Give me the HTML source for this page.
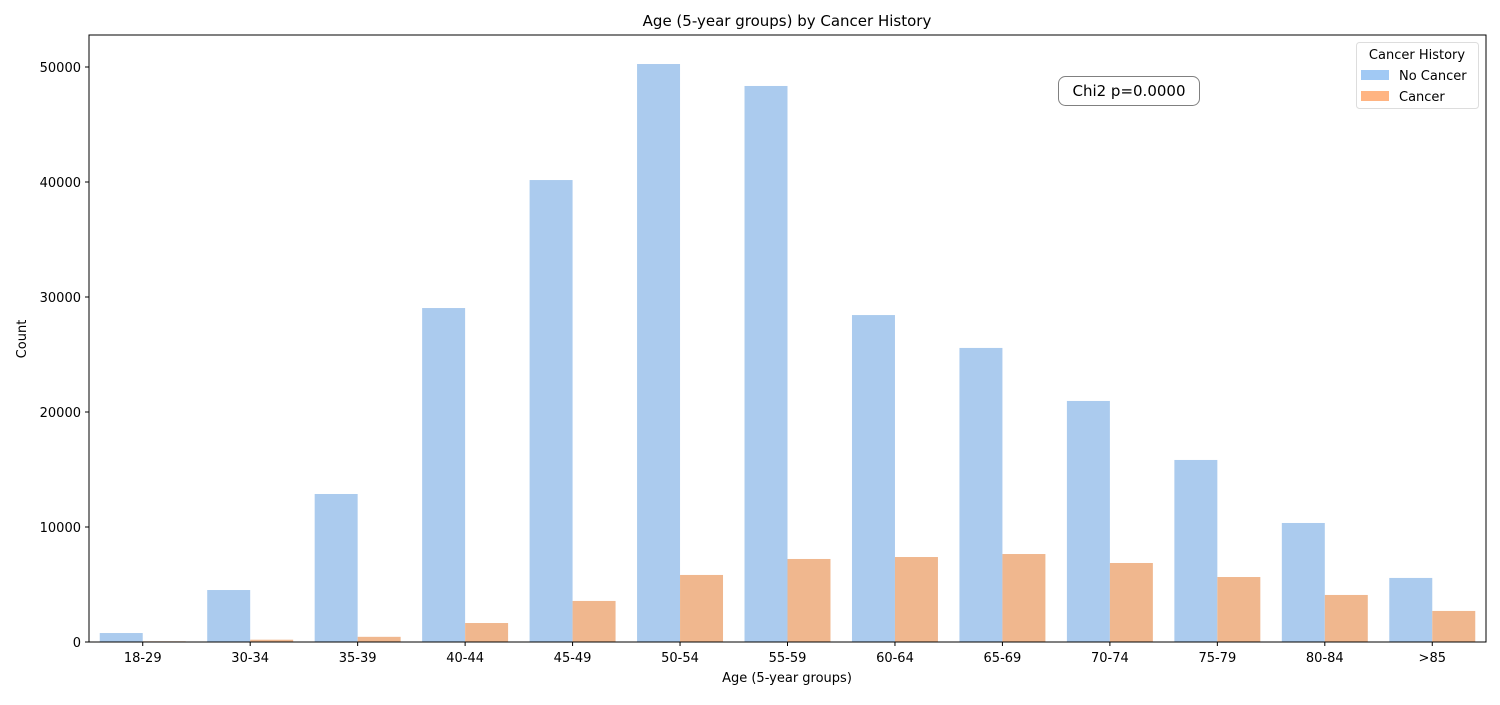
<!DOCTYPE html>
<html><head><meta charset="utf-8"><style>
body{margin:0;background:#fff;}
svg{font-family:"DejaVu Sans","Liberation Sans",sans-serif;}
</style></head><body>
<svg id="chart" width="1500" height="700" xmlns="http://www.w3.org/2000/svg">
<text x="787" y="26" text-anchor="middle" font-size="15">Age (5-year groups) by Cancer History</text>
<g id="plot"></g>
<rect x="89" y="35" width="1397" height="607" fill="none" stroke="#000" stroke-width="1"/>
<text x="787" y="682" text-anchor="middle" font-size="13">Age (5-year groups)</text>
<text x="26" y="339" text-anchor="middle" font-size="13" transform="rotate(-90 26 339)">Count</text>
<g>
<rect x="1058.5" y="76.5" width="141" height="29" rx="7" fill="#fff" stroke="#808080"/>
<text x="1129" y="96" text-anchor="middle" font-size="15">Chi2 p=0.0000</text>
</g>
<g>
<rect x="1356.5" y="42.5" width="122" height="66" rx="3" fill="#fff" stroke="#ddd"/>
<text x="1417" y="59" text-anchor="middle" font-size="13">Cancer History</text>
<rect x="1361" y="70" width="28" height="10" fill="#a1c9f4"/>
<text x="1399" y="80" font-size="13">No Cancer</text>
<rect x="1361" y="91" width="28" height="10" fill="#ffb482"/>
<text x="1399" y="101" font-size="13">Cancer</text>
</g>
</svg>
<script>
const categories=["18-29","30-34","35-39","40-44","45-49","50-54","55-59","60-64","65-69","70-74","75-79","80-84",">85"];
const noCancer=[780,4520,12870,29040,40170,50260,48350,28430,25570,20960,15830,10350,5570];
const cancer=[60,200,450,1650,3570,5830,7220,7390,7650,6870,5650,4090,2700];
const yTicks=[0,10000,20000,30000,40000,50000];
const NS="http://www.w3.org/2000/svg";
const L=89,R=1486,B=642,T0=67;
const band=(R-L)/categories.length;
function y(v){return B-v*(B-T0)/50000;}
function xc(i){return L+band*(i+0.5);}
const g=document.getElementById('plot');
function mk(t,a){const e=document.createElementNS(NS,t);for(const k in a)e.setAttribute(k,a[k]);g.appendChild(e);return e;}
// alpha colors with light blending (seaborn pastel has slight alpha look)
categories.forEach((c,i)=>{
  const w=band*0.4;
  const b1=mk('rect',{x:xc(i)-w,y:y(noCancer[i]),width:w,height:B-y(noCancer[i]),fill:'#abcbee'});
  
  
  const b2=mk('rect',{x:xc(i),y:y(cancer[i]),width:w,height:B-y(cancer[i]),fill:'#f0b78e'});
  
  
  const tk=mk('line',{x1:xc(i),x2:xc(i),y1:B,y2:B+4,stroke:'#000'});
  
  
  const lb=mk('text',{x:xc(i),y:B+20,'text-anchor':'middle','font-size':13});
  lb.textContent=c;
  
  
});
yTicks.forEach(v=>{
  const tk=mk('line',{x1:L-4,x2:L,y1:y(v),y2:y(v),stroke:'#000'});
  
  
  const lb=mk('text',{x:L-8,y:y(v)+5,'text-anchor':'end','font-size':13});
  lb.textContent=v;
  
  
});
</script>
</body></html>
